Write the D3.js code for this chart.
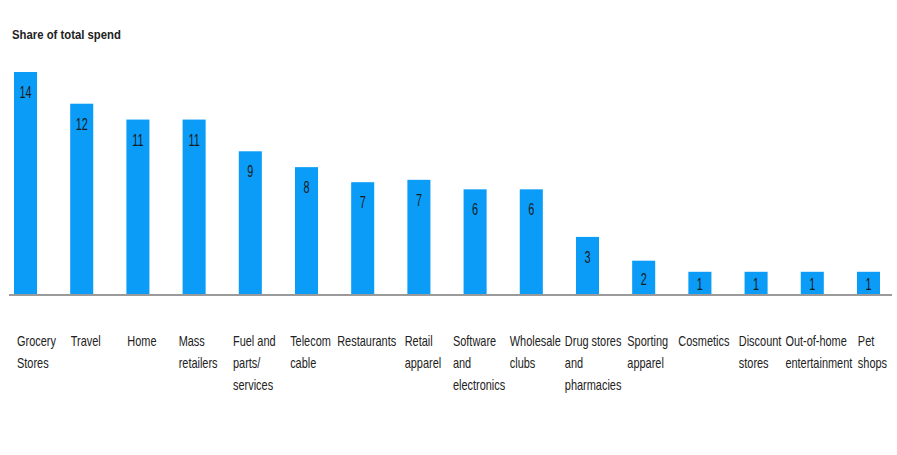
<!DOCTYPE html>
<html>
<head>
<meta charset="utf-8">
<script src="https://cdn.jsdelivr.net/npm/d3@7"></script>
<style>
  body { margin: 0; background: #fff; }
  text { font-family: "Liberation Sans", Arial, sans-serif; }
</style>
</head>
<body>
<script>
// categories, bar heights and the printed labels
var categories = [
  ["Grocery", "Stores"], ["Travel"], ["Home"], ["Mass", "retailers"],
  ["Fuel and", "parts/", "services"], ["Telecom", "cable"], ["Restaurants"],
  ["Retail", "apparel"], ["Software", "and", "electronics"], ["Wholesale", "clubs"],
  ["Drug stores", "and", "pharmacies"], ["Sporting", "apparel"], ["Cosmetics"],
  ["Discount", "stores"], ["Out-of-home", "entertainment"], ["Pet", "shops"]
];
var shareValues = [14, 12, 11, 11, 9, 8, 7.05, 7.2, 6.6, 6.6, 3.6, 2.1, 1.4, 1.4, 1.4, 1.4];
var shareLabels = ["14", "12", "11", "11", "9", "8", "7", "7", "6", "6", "3", "2", "1", "1", "1", "1"];
var title = "Share of total spend";

var width = 897, height = 455;
var baseY = 294, topY = 72;

var svg = d3.select("body").append("svg")
  .attr("width", width).attr("height", height);

var x = d3.scaleBand()
  .domain(d3.range(categories.length))
  .range([14, 880])
  .paddingInner(0.59)
  .paddingOuter(0);

var y = d3.scaleLinear()
  .domain([0, d3.max(shareValues)])
  .range([baseY, topY]);

// title
svg.append("text")
  .attr("transform", "translate(12,39) scale(0.84,1)")
  .attr("font-size", 13.5)
  .attr("font-weight", "bold")
  .attr("fill", "#222")
  .text(title);

// bars
svg.selectAll("rect.bar")
  .data(shareValues)
  .enter().append("rect")
  .attr("class", "bar")
  .attr("x", function(d, i) { return x(i); })
  .attr("y", function(d) { return y(d); })
  .attr("width", x.bandwidth())
  .attr("height", function(d) { return baseY - y(d); })
  .attr("fill", "#0a9cf6");

// value labels inside the bars
svg.selectAll("text.val")
  .data(shareValues)
  .enter().append("text")
  .attr("class", "val")
  .attr("transform", function(d, i) {
    var h = baseY - y(d);
    var ty = y(d) + Math.min(26, h * 0.55 + 6);
    return "translate(" + (x(i) + x.bandwidth() / 2) + "," + ty + ") scale(0.68,1)";
  })
  .attr("text-anchor", "middle")
  .attr("font-size", 16)
  .attr("fill", "#1a1a1a")
  .text(function(d, i) { return shareLabels[i]; });

// baseline
svg.append("line")
  .attr("x1", 9).attr("x2", 892)
  .attr("y1", baseY + 1).attr("y2", baseY + 1)
  .attr("stroke", "#9a9a9a")
  .attr("stroke-width", 2);

// category labels: left aligned lines, block roughly centred under its bar,
// pushed right so it never runs into the previous one
var sx = 0.73;
var lab = svg.selectAll("g.cat")
  .data(categories)
  .enter().append("g")
  .attr("class", "cat");

var labText = lab.append("text")
  .attr("transform", "scale(" + sx + ",1)")
  .attr("font-size", 15)
  .attr("fill", "#222");

labText.selectAll("tspan")
  .data(function(d) { return d; })
  .enter().append("tspan")
  .attr("x", 0)
  .attr("dy", function(d, i) { return i === 0 ? 0 : 22; })
  .text(function(d) { return d; });

var prevEnd = 13;
lab.attr("transform", function(d, i) {
  var w = 0;
  d3.select(this).selectAll("tspan").each(function() {
    w = Math.max(w, this.getComputedTextLength());
  });
  w = w * sx;
  var cx = x(i) + x.bandwidth() / 2;
  var lx = Math.max(cx - w / 2 + 4, prevEnd + 4);
  prevEnd = lx + w;
  return "translate(" + lx + ",346)";
});
</script>
</body>
</html>
